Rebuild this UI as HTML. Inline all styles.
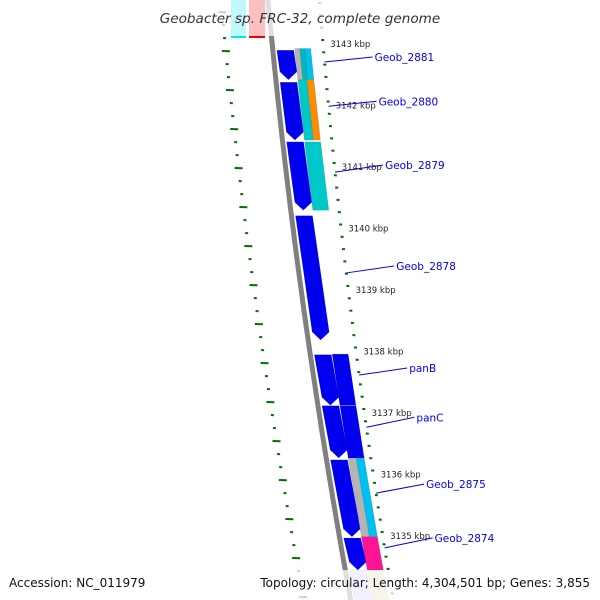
<!DOCTYPE html>
<html><head><meta charset="utf-8"><style>
body{margin:0;background:#fff}
svg{display:block;font-family:"DejaVu Sans","Liberation Sans",sans-serif}
</style></head><body>
<svg id="map" width="600" height="600" viewBox="0 0 600 600" xmlns="http://www.w3.org/2000/svg"></svg>
<script>
const tickKbp=[3143,3142,3141,3140,3139,3138,3137,3136,3135];
const featStart=[3142.93,3142.41,3141.44,3140.24,3137.98,3137.15,3136.27,3135.0,3134.48, 3142.96,3142.96,3142.96,3142.45,3142.45,3141.44,3137.99,3137.15,3136.30,3136.30,3135.02,3134.48];
const featEnd=[3142.45,3141.47,3140.33,3138.22,3137.16,3136.30,3135.02,3134.48,3133.8, 3142.45,3142.45,3142.45,3141.47,3141.47,3140.33,3137.16,3136.30,3135.02,3135.02,3134.48,3133.8];
const featLane=[0,0,0,0,0,0,0,0,0, 1,2,3,4,5,6,6,6,7,8,6,6];
const featColor=["#0000ee","#0000ee","#0000ee","#0000ee","#0000ee","#0000ee","#0000ee","#0000ee","#c8c8ff","#b4b4b4","#00b8b8","#00c0f0","#00c8c8","#ff8c00","#00c8c8","#0000ee","#0000ee","#b4b4b4","#00c0f0","#ff1493","#ddd8a8"];
const featArrow=[1,1,1,1,1,1,1,1,0, 0,0,0,0,0,0,0,0,0,0,0,0];
const labelText=["Geob_2881","Geob_2880","Geob_2879","Geob_2878","panB","panC","Geob_2875","Geob_2874"];
const labelKbp=[3142.74,3142.02,3140.95,3139.31,3137.65,3136.80,3135.73,3134.84];
const laneOff=[[4,21],[22,27],[27,32],[32,38],[22,31],[31,38],[22,38],[22,30],[30,38]];
const labelRise=[5,5,7,7,7,10,9,10];
const NS="http://www.w3.org/2000/svg";
const svg=document.getElementById('map');
function y(k){return 46+(3143-k)*61.5;}
function c(yy){return 268+0.0924*yy+7.58e-5*yy*yy;}
function t(yy){return c(yy)+50-0.015*(yy-100);}
function L(yy){return c(yy)-47;}
function mk(tag,attrs,name){const e=document.createElementNS(NS,tag);for(const k in attrs)e.setAttribute(k,attrs[k]);


svg.appendChild(e);return e;}
let d="";for(let yy=0;yy<=600;yy+=10)d+=(yy?"L":"M")+c(yy).toFixed(1)+","+yy;
mk('path',{d:d,stroke:"#808080","stroke-width":5,fill:"none"},'backbone');
mk('rect',{x:231,y:0,width:15,height:38,fill:"#00e8f0"},'top-feature-cyan');
mk('rect',{x:249,y:0,width:16,height:38,fill:"#ee0000"},'top-feature-red');
for(let i=0;i<featStart.length;i++){
 const y1=y(featStart[i]),y2=y(featEnd[i]);const o=laneOff[featLane[i]];
 const a=featArrow[i]?8:0;
 const pts=[[c(y1)+o[0],y1],[c(y1)+o[1],y1],[c(y2)+o[1],y2-a],[c(y2)+(o[0]+o[1])/2,y2],[c(y2)+o[0],y2-a]];
 mk('polygon',{points:pts.map(p=>p[0].toFixed(1)+","+p[1].toFixed(1)).join(" "),fill:featColor[i],stroke:"rgba(0,0,0,0.15)","stroke-width":0.6},'feature-'+i);
}
for(let k=3143.7;k>=3134.0;k-=0.2){const kk=Math.round(k*10)/10;const yy=y(kk);const major=Math.abs(kk-Math.round(kk))<0.01;
 const x=t(yy);mk('line',{x1:x-(major?5:1.5),y1:yy,x2:x+(major?5:1.5),y2:yy+0.3,stroke:"#007000","stroke-width":2},'tick-mark');}
for(let i=0;i<tickKbp.length;i++){const yy=y(tickKbp[i]);
 const e=mk('text',{x:t(yy)+7,y:yy+1,"font-size":8.5,fill:"#222"},'tick-label');e.textContent=tickKbp[i]+" kbp";}
for(let yy=12,n=0;yy<600;yy+=13,n++){const x=L(yy);const w=(n%3==0)?4:1.5;
 mk('line',{x1:x-w,y1:yy,x2:x+w,y2:yy+0.3,stroke:"#007000","stroke-width":2},'inner-ring-mark');}
for(let i=0;i<labelText.length;i++){const yy=y(labelKbp[i]);const x0=t(yy);
 const lx=x0+50,ly=yy-labelRise[i];
 mk('line',{x1:x0,y1:yy,x2:lx-2,y2:ly,stroke:"#0000ee","stroke-width":1},'label-line');
 const e=mk('text',{x:lx,y:ly+4,"font-size":10.5,fill:"#0000ee"},'gene-label');e.textContent=labelText[i];}
mk('rect',{x:140,y:0,width:320,height:36,fill:"rgba(255,255,255,0.75)"},'title-bg');
mk('rect',{x:0,y:570,width:600,height:30,fill:"rgba(255,255,255,0.75)"},'footer-bg');
let e=mk('text',{x:300,y:23,"text-anchor":"middle","font-size":13.6,"font-style":"italic",fill:"#333"},'chart-title');e.textContent="Geobacter sp. FRC-32, complete genome";
e=mk('text',{x:9,y:587,"font-size":12,fill:"#111"},'accession');e.textContent="Accession: NC_011979";
e=mk('text',{x:590,y:587,"text-anchor":"end","font-size":12,fill:"#111"},'genome-info');e.textContent="Topology: circular; Length: 4,304,501 bp; Genes: 3,855";
</script>
</body></html>
